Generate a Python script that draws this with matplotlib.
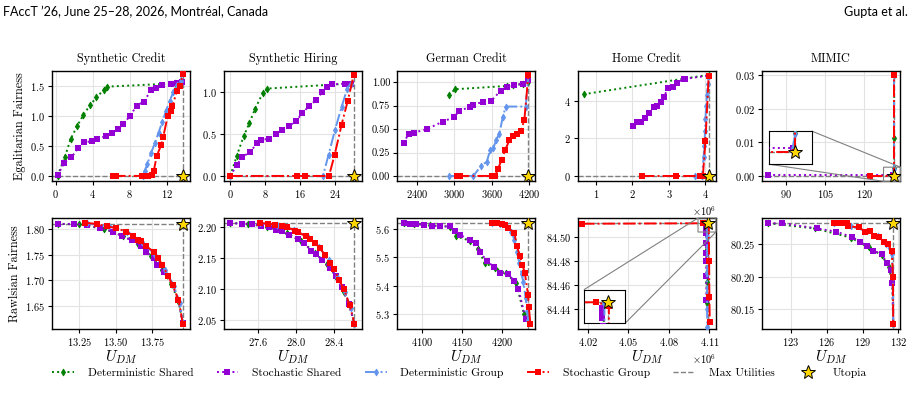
import matplotlib
matplotlib.use("Agg")
import matplotlib.pyplot as plt
from matplotlib.ticker import ScalarFormatter

plt.rcParams['font.family'] = 'serif'
plt.rcParams['font.serif'] = ['cmr10']
plt.rcParams['mathtext.fontset'] = 'cm'
plt.rcParams['axes.formatter.use_mathtext'] = True
plt.rcParams['axes.unicode_minus'] = False

titles = ["Synthetic Credit", "Synthetic Hiring", "German Credit", "Home Credit", "MIMIC"]
row_labels = ["Egalitarian Fairness", "Rawlsian Fairness"]
series_names = ["Deterministic Shared", "Stochastic Shared", "Deterministic Group", "Stochastic Group"]

# ---- top row: egalitarian fairness ----
sc_eg_ds = [(0.2, 0.0), (1.0, 0.32), (1.6, 0.61), (2.3, 0.83), (3.0, 1.02), (3.7, 1.18),
            (4.4, 1.31), (5.2, 1.44), (5.5, 1.49), (12.9, 1.545)]
sc_eg_ss = [(0.2, 0.01), (0.94, 0.22), (1.7, 0.31), (2.45, 0.47), (3.1, 0.56), (3.9, 0.58),
            (4.5, 0.61), (5.4, 0.67), (6.1, 0.71), (6.7, 0.79), (7.3, 0.86), (8.0, 1.0),
            (8.75, 1.17), (9.5, 1.24), (10.3, 1.43), (10.85, 1.47), (11.5, 1.51), (12.4, 1.53),
            (13.1, 1.55), (13.6, 1.56)]
sc_eg_dg = [(9.4, 0.0), (9.6, 0.08), (9.9, 0.2), (10.3, 0.38), (10.7, 0.55), (11.1, 0.72),
            (11.5, 0.9), (11.9, 1.08), (12.3, 1.25), (12.7, 1.4), (13.1, 1.52), (13.5, 1.58),
            (13.73, 1.75)]
sc_eg_sg = [(6.2, 0.0), (6.5, 0.0), (9.3, 0.0), (10.0, 0.0), (10.4, 0.01), (10.6, 0.09),
            (10.9, 0.33), (11.4, 0.52), (11.6, 0.65), (12.1, 1.0), (12.4, 1.08), (12.6, 1.17),
            (13.1, 1.42), (13.4, 1.5), (13.73, 1.7)]

sh_eg_ds = [(0.0, 0.0), (1.5, 0.24), (3.05, 0.47), (4.4, 0.63), (5.7, 0.8), (7.5, 0.99),
            (8.5, 1.04), (27.7, 1.1)]
sh_eg_ss = [(0.0, 0.0), (1.5, 0.13), (2.7, 0.22), (4.6, 0.29), (6.2, 0.39), (7.1, 0.43),
            (8.8, 0.44), (10.5, 0.5), (12.0, 0.55), (13.6, 0.6), (15.1, 0.65), (16.6, 0.75),
            (18.1, 0.83), (19.7, 0.9), (21.2, 1.0), (22.3, 1.06), (23.5, 1.09), (26.5, 1.1),
            (27.7, 1.1)]
sh_eg_dg = [(0.0, 0.0), (21.3, 0.0), (22.6, 0.25), (24.1, 0.55), (25.6, 0.82), (26.9, 1.04),
            (27.7, 1.1)]
sh_eg_sg = [(0.0, 0.0), (15.3, 0.0), (17.2, 0.0), (22.7, 0.0), (24.0, 0.25), (25.6, 0.61),
            (27.0, 0.89), (28.4, 1.2)]

gc_eg_ds = [(2906, 0.864), (3012, 0.925), (3838, 0.96), (3944, 0.97), (4093, 0.98), (4184, 1.0)]
gc_eg_ss = [(2187, 0.35), (2267, 0.45), (2347, 0.46), (2560, 0.5), (2815, 0.58), (2986, 0.625),
            (3076, 0.69), (3252, 0.74), (3305, 0.76), (3454, 0.79), (3587, 0.8), (3742, 0.91),
            (3838, 0.95), (3955, 0.975), (4093, 0.98), (4184, 1.02)]
gc_eg_dg = [(2906, 0.0), (3305, 0.0), (3428, 0.11), (3518, 0.15), (3571, 0.275), (3625, 0.3),
            (3667, 0.38), (3720, 0.45), (3774, 0.63), (3822, 0.74), (4141, 0.74), (4184, 1.08)]
gc_eg_sg = [(3039, 0.0), (3092, 0.0), (3609, 0.0), (3651, 0.0), (3694, 0.07), (3758, 0.175),
            (3811, 0.275), (3880, 0.38), (3944, 0.43), (3998, 0.45), (4067, 0.48), (4120, 0.6),
            (4184, 1.08)]

hc_eg_ds = [(0.66e6, 4.34), (4.09e6, 5.37)]
hc_eg_ss = [(2.02e6, 2.67), (2.13e6, 2.84), (2.22e6, 2.88), (2.34e6, 3.06), (2.45e6, 3.32),
            (2.6e6, 3.68), (2.67e6, 3.72), (2.77e6, 3.91), (2.86e6, 4.21), (2.98e6, 4.66),
            (3.11e6, 4.75), (3.22e6, 4.96), (3.41e6, 5.14), (3.45e6, 5.16), (4.09e6, 5.33)]
hc_eg_dg = [(3.71e6, 0.0), (3.91e6, 0.0), (3.95e6, 1.0), (3.97e6, 1.6), (3.99e6, 2.4),
            (4.0e6, 3.0), (4.02e6, 3.7), (4.04e6, 4.3), (4.06e6, 4.9), (4.09e6, 5.33)]
hc_eg_sg = [(2.26e6, 0.0), (3.18e6, 0.0), (3.85e6, 0.0), (3.93e6, 0.0), (4.0e6, 1.85),
            (4.09e6, 5.33)]

mm_eg_ds = [(131.3, 0.03), (131.3, 0.0114), (131.3, 0.0023)]
mm_eg_ss = [(83.2, 0.0004), (130.9, 0.0004)]
mm_eg_dg = [(130.9, 0.0005), (131.3, 0.0022), (131.3, 0.03)]
mm_eg_sg = [(122.2, 0.0), (131.3, 0.0), (131.3, 0.03)]

utopia_eg = [(13.73, 0.0), (28.4, 0.0), (4184, 0.0), (4.09e6, 0.0), (131.3, 0.0)]

# ---- bottom row: rawlsian fairness ----
sc_rw_ds = [(13.1, 1.810), (13.25, 1.809), (13.42, 1.800), (13.55, 1.787), (13.65, 1.771),
            (13.74, 1.748), (13.82, 1.72), (13.88, 1.693), (13.93, 1.66), (13.96, 1.616)]
sc_rw_ss = [(13.10, 1.810), (13.21, 1.810), (13.30, 1.808), (13.39, 1.802), (13.48, 1.795),
            (13.54, 1.786), (13.61, 1.778), (13.67, 1.766), (13.71, 1.755), (13.76, 1.743),
            (13.78, 1.73), (13.83, 1.717), (13.86, 1.708), (13.89, 1.69), (13.93, 1.662),
            (13.96, 1.616)]
sc_rw_dg = [(13.3, 1.811), (13.45, 1.806), (13.58, 1.795), (13.68, 1.774), (13.77, 1.75),
            (13.84, 1.72), (13.9, 1.688), (13.94, 1.655), (13.96, 1.616)]
sc_rw_sg = [(13.29, 1.812), (13.37, 1.81), (13.44, 1.805), (13.50, 1.802), (13.57, 1.795),
            (13.62, 1.787), (13.65, 1.779), (13.67, 1.776), (13.71, 1.766), (13.76, 1.756),
            (13.79, 1.743), (13.82, 1.73), (13.86, 1.708), (13.89, 1.69), (13.93, 1.662),
            (13.96, 1.615)]

sh_rw_ds = [(27.31, 2.2065), (27.5, 2.205), (27.7, 2.2), (27.9, 2.19), (28.05, 2.178),
            (28.2, 2.158), (28.32, 2.14), (28.42, 2.12), (28.5, 2.095), (28.56, 2.072),
            (28.61, 2.044)]
sh_rw_ss = [(27.31, 2.2065), (27.43, 2.2054), (27.54, 2.2049), (27.63, 2.202), (27.72, 2.1995),
            (27.79, 2.196), (27.85, 2.193), (27.92, 2.1876), (28.02, 2.18), (28.08, 2.174),
            (28.16, 2.162), (28.21, 2.156), (28.27, 2.147), (28.35, 2.134), (28.42, 2.121),
            (28.48, 2.103), (28.55, 2.076), (28.61, 2.044)]
sh_rw_dg = [(27.62, 2.2065), (27.8, 2.203), (27.98, 2.195), (28.12, 2.184), (28.24, 2.168),
            (28.34, 2.146), (28.43, 2.12), (28.51, 2.095), (28.57, 2.07), (28.61, 2.044)]
sh_rw_sg = [(27.62, 2.2065), (27.71, 2.2054), (27.78, 2.2038), (27.85, 2.202), (27.9, 2.2),
            (27.99, 2.194), (28.02, 2.192), (28.1, 2.185), (28.14, 2.18), (28.20, 2.174),
            (28.25, 2.166), (28.30, 2.155), (28.35, 2.142), (28.40, 2.132), (28.45, 2.114),
            (28.50, 2.1), (28.56, 2.074), (28.61, 2.044)]

gc_rw_ds = [(4077, 5.62), (4090, 5.617), (4110, 5.612), (4135, 5.607), (4143, 5.573),
            (4160, 5.558), (4170, 5.53), (4179, 5.479), (4192, 5.462), (4205, 5.444),
            (4218, 5.41), (4228, 5.3)]
gc_rw_ss = [(4077, 5.62), (4085, 5.6176), (4093, 5.616), (4102, 5.614), (4112, 5.611),
            (4123, 5.608), (4135, 5.608), (4142, 5.591), (4148, 5.579), (4160, 5.559),
            (4168, 5.55), (4173, 5.517), (4182, 5.485), (4190, 5.467), (4198, 5.446),
            (4208, 5.442), (4215, 5.418), (4221, 5.388), (4230, 5.282)]
gc_rw_dg = [(4188, 5.62), (4198, 5.615), (4206, 5.605), (4212, 5.59), (4216, 5.56),
            (4219, 5.52), (4222, 5.48), (4225, 5.44), (4227, 5.414), (4230, 5.356),
            (4232, 5.31), (4233, 5.28)]
gc_rw_sg = [(4188, 5.62), (4194, 5.62), (4200, 5.618), (4204, 5.614), (4208, 5.602),
            (4216, 5.585), (4219, 5.538), (4223, 5.503), (4226, 5.473), (4229, 5.444),
            (4233, 5.368), (4234, 5.324), (4236, 5.266)]

hc_rw_ds = [(4.1080e6, 84.5110), (4.1079e6, 84.49), (4.1080e6, 84.463), (4.1081e6, 84.445)]
hc_rw_ss = [(4.1074e6, 84.5098), (4.1073e6, 84.508), (4.1075e6, 84.5064), (4.1076e6, 84.5036),
            (4.1075e6, 84.4953), (4.1076e6, 84.487), (4.1077e6, 84.48), (4.1077e6, 84.4674),
            (4.1078e6, 84.448)]
hc_rw_dg = [(4.1082e6, 84.5115), (4.1082e6, 84.50), (4.1083e6, 84.47), (4.1083e6, 84.44),
            (4.1084e6, 84.425)]
hc_rw_sg = [(4.0158e6, 84.5114), (4.1056e6, 84.5118), (4.1096e6, 84.5105), (4.1098e6, 84.48),
            (4.1100e6, 84.45), (4.1103e6, 84.429)]

mm_rw_ds = [(121.1, 80.282), (125.0, 80.274), (128.0, 80.26), (129.5, 80.245), (130.6, 80.233),
            (131.2, 80.215), (131.5, 80.19), (131.57, 80.127)]
mm_rw_ss = [(121.1, 80.282), (122.2, 80.282), (125.2, 80.274), (126.8, 80.269), (128.1, 80.261),
            (128.8, 80.254), (129.4, 80.247), (129.9, 80.24), (130.6, 80.235), (131.05, 80.221),
            (131.35, 80.21), (131.5, 80.19), (131.57, 80.127)]
mm_rw_dg = [(126.6, 80.283), (128.0, 80.277), (129.4, 80.27), (130.3, 80.262), (131.0, 80.25),
            (131.45, 80.235), (131.55, 80.2), (131.57, 80.127)]
mm_rw_sg = [(126.6, 80.283), (126.9, 80.283), (127.3, 80.282), (127.7, 80.282), (127.8, 80.277),
            (128.7, 80.276), (129.2, 80.269), (129.6, 80.27), (130.0, 80.263), (130.4, 80.261),
            (130.8, 80.254), (131.1, 80.25), (131.45, 80.24), (131.55, 80.2), (131.57, 80.127)]

utopia_rw = [(13.96, 1.81), (28.61, 2.2065), (4233, 5.62), (4.1093e6, 84.5119), (131.57, 80.2823)]

eg_data = [(sc_eg_ds, sc_eg_ss, sc_eg_dg, sc_eg_sg), (sh_eg_ds, sh_eg_ss, sh_eg_dg, sh_eg_sg),
           (gc_eg_ds, gc_eg_ss, gc_eg_dg, gc_eg_sg), (hc_eg_ds, hc_eg_ss, hc_eg_dg, hc_eg_sg),
           (mm_eg_ds, mm_eg_ss, mm_eg_dg, mm_eg_sg)]
rw_data = [(sc_rw_ds, sc_rw_ss, sc_rw_dg, sc_rw_sg), (sh_rw_ds, sh_rw_ss, sh_rw_dg, sh_rw_sg),
           (gc_rw_ds, gc_rw_ss, gc_rw_dg, gc_rw_sg), (hc_rw_ds, hc_rw_ss, hc_rw_dg, hc_rw_sg),
           (mm_rw_ds, mm_rw_ss, mm_rw_dg, mm_rw_sg)]

eg_xlim = [(-0.4, 14.5), (-1.45, 30.3), (2081, 4290), (0.506e6, 4.29e6), (80.8, 133.6)]
eg_ylim = [(-0.085, 1.76), (-0.06, 1.255), (-0.054, 1.125), (-0.267, 5.6), (-0.0015, 0.0313)]
eg_xticks = [[0, 4, 8, 12], [0, 8, 16, 24], [2400, 3000, 3600, 4200], [1e6, 2e6, 3e6, 4e6], [90, 105, 120]]
eg_yticks = [[0, 0.5, 1.0, 1.5], [0, 0.5, 1.0], [0, 0.25, 0.5, 0.75, 1.0], [0, 2, 4], [0, 0.01, 0.02, 0.03]]

rw_xlim = [(13.062, 14.009), (27.245, 28.689), (4068.75, 4241.7), (4.0128e6, 4.1149e6), (120.56, 132.14)]
rw_ylim = [(1.605, 1.8215), (2.0354, 2.2146), (5.2483, 5.6375), (84.4235, 84.5162), (80.12, 80.29)]
rw_xticks = [[13.25, 13.5, 13.75], [27.6, 28.0, 28.4], [4100, 4150, 4200],
             [4.02e6, 4.05e6, 4.08e6, 4.11e6], [123, 126, 129, 132]]
rw_yticks = [[1.65, 1.70, 1.75, 1.80], [2.05, 2.10, 2.15, 2.20], [5.3, 5.4, 5.5, 5.6],
             [84.44, 84.46, 84.48, 84.50], [80.15, 80.20, 80.25]]

styles = [dict(color='green', ls=':', marker='d', ms=3.5, mew=0.6),
          dict(color='darkviolet', ls=':', marker='s', ms=4.4, mew=0),
          dict(color='cornflowerblue', ls='-.', marker='d', ms=3.5, mew=0.6),
          dict(color='red', ls='-.', marker='s', ms=4.4, mew=0)]
for st in styles:
    st['mfc'] = st['color']
    st['mec'] = st['color']


def draw_series(ax, data, star, xlim, ylim, top):
    for pts, st, name in zip(data, styles, series_names):
        xs = [p[0] for p in pts]
        ys = [p[1] for p in pts]
        ax.plot(xs, ys, lw=1.4, label=name, zorder=3, **st)
    ux, uy = star
    yfar = ylim[1] + 1 if top else ylim[0] - 1
    ax.plot([xlim[0] - 1, ux, ux], [uy, uy, yfar], ls='--', color='gray', lw=1.0,
            label='Max Utilities', zorder=2)
    ax.plot([ux], [uy], ls='none', marker='*', ms=10, mfc='gold', mec='black', mew=0.7,
            label='Utopia', zorder=5)
    ax.set_xlim(xlim)
    ax.set_ylim(ylim)


fig = plt.figure(figsize=(9.12, 4.13), dpi=100)
W, H = 912.0, 413.0
lefts = [52, 224, 397, 578, 762]
aw = 138
rows = [(70.5, 181), (218, 329)]

axes = []
for r, (top_px, bot_px) in enumerate(rows):
    for c in range(5):
        ax = fig.add_axes([lefts[c] / W, 1 - bot_px / H, aw / W, (bot_px - top_px) / H])
        top = (r == 0)
        data = eg_data[c] if top else rw_data[c]
        star = utopia_eg[c] if top else utopia_rw[c]
        xl = eg_xlim[c] if top else rw_xlim[c]
        yl = eg_ylim[c] if top else rw_ylim[c]
        draw_series(ax, data, star, xl, yl, top)
        ax.set_xticks(eg_xticks[c] if top else rw_xticks[c])
        ax.set_yticks(eg_yticks[c] if top else rw_yticks[c])
        fx = ScalarFormatter(useMathText=True, useOffset=False)
        fy = ScalarFormatter(useMathText=True, useOffset=False)
        if c == 3:
            fx.set_powerlimits((6, 6))
        ax.xaxis.set_major_formatter(fx)
        ax.yaxis.set_major_formatter(fy)
        if top and c == 2:
            ax.set_yticklabels(['0.00', '0.25', '0.50', '0.75', '1.00'])
        ax.grid(True, color='#e3e3e3', lw=0.8, zorder=0)
        ax.set_axisbelow(True)
        ax.tick_params(labelsize=7.5, length=3, width=0.8, pad=2)
        ax.xaxis.get_offset_text().set_fontsize(7.5)
        for sp in ax.spines.values():
            sp.set_linewidth(1.0)
        if top:
            ax.set_title(titles[c], fontsize=8.8, pad=6)
        else:
            ax.set_xlabel(r'$U_{DM}$', fontsize=11, labelpad=0)
        if c == 0:
            ax.set_ylabel(row_labels[r], fontsize=8.8, labelpad=3)
        axes.append(ax)

# inset on MIMIC egalitarian panel
ax = axes[4]
ins = ax.inset_axes([0.05, 0.152, 0.31, 0.30])
ux, uy = utopia_eg[4]
draw_series(ins, eg_data[4], utopia_eg[4], (ux - 4.0, ux + 2.5), (-0.0016, 0.0026), True)
ins.set_xticks([])
ins.set_yticks([])
ax.indicate_inset_zoom(ins, edgecolor='gray', alpha=1.0, lw=0.8)

# inset on Home Credit rawlsian panel
ax = axes[8]
ins = ax.inset_axes([0.043, 0.054, 0.30, 0.30])
draw_series(ins, rw_data[3], utopia_rw[3], (4.1016e6, 4.1149e6), (84.5045, 84.5162), False)
ins.set_xticks([])
ins.set_yticks([])
ax.indicate_inset_zoom(ins, edgecolor='gray', alpha=1.0, lw=0.8)

handles, labels = axes[0].get_legend_handles_labels()
fig.legend(handles, labels, loc='center', ncol=6, bbox_to_anchor=(0.504, 1 - 373 / H),
           frameon=False, fontsize=8.3, handlelength=1.9, handletextpad=1.2, columnspacing=2.0)

fig.text(3 / W, 1 - 12 / H, "FAccT \u201926, June 25\u201328, 2026, Montr\u00e9al, Canada",
         family='Lato', fontsize=9, va='center', ha='left')
fig.text(908 / W, 1 - 12 / H, "Gupta et al.", family='Lato', fontsize=9, va='center', ha='right')

fig.savefig('out.png', dpi=100)
